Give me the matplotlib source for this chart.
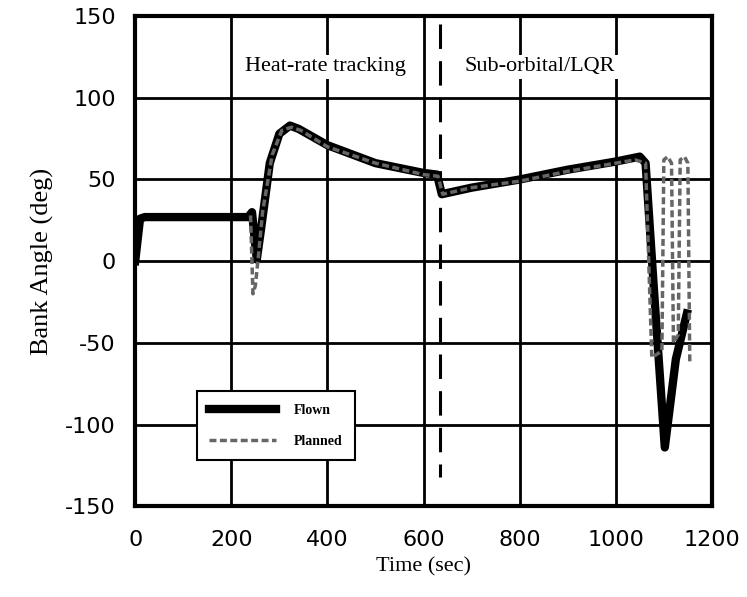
import matplotlib.pyplot as plt

plt.rcParams['axes.unicode_minus'] = False

# flown bank angle history
flown_t = [0, 10, 20, 235, 243, 253, 262, 280, 300, 322, 340, 400, 500, 600,
           628, 638, 700, 800, 900, 1000, 1050, 1062, 1080, 1102, 1125, 1148]
flown_v = [0, 26, 27, 27, 30, 1, 20, 60, 78, 83, 81, 71, 60, 54,
           53, 41, 45, 50, 56, 61, 64, 60, -20, -114, -60, -32]

# planned bank angle history
planned_t = [240, 245, 250, 256, 265, 285, 305, 325, 345, 400, 500, 600, 630,
             640, 700, 800, 900, 1000, 1040, 1062, 1075, 1096, 1100, 1108,
             1116, 1120, 1130, 1134, 1143, 1150, 1154]
planned_v = [28, -20, -15, 2, 30, 65, 80, 82, 80, 70, 60, 53, 52,
             41, 45, 49, 55, 60, 62, 60, -59, -55, 62, 64,
             60, -50, -45, 62, 64, 60, -62]

x_ticks = [0, 200, 400, 600, 800, 1000, 1200]
y_ticks = [-150, -100, -50, 0, 50, 100, 150]
switch_time = 635

serif = 'Liberation Serif'
sans = 'DejaVu Sans'

fig = plt.figure(figsize=(7.47, 5.97), dpi=100)
ax = fig.add_axes([0.181, 0.152, 0.772, 0.821])

ax.plot(flown_t, flown_v, color='k', lw=6, solid_joinstyle='round',
        label='Flown', zorder=3)
ax.plot(planned_t, planned_v, color='0.4', lw=2.5,
        linestyle=(0, (2, 1)), label='Planned', zorder=4)
ax.plot([switch_time, switch_time], [145, -132], color='k', lw=2.2,
        linestyle=(0, (8, 4)), zorder=2)

ax.set_xlim(0, 1200)
ax.set_ylim(-150, 150)
ax.set_xticks(x_ticks)
ax.set_yticks(y_ticks)
ax.grid(True, color='k', lw=2)
ax.set_axisbelow(True)
ax.tick_params(length=0, labelsize=16)
ax.tick_params(axis='x', pad=17)
ax.tick_params(axis='y', pad=14)
for lab in ax.get_xticklabels() + ax.get_yticklabels():
    lab.set_family(sans)
for s in ax.spines.values():
    s.set_linewidth(3)

ax.set_xlabel('Time (sec)', family=serif, fontsize=16, labelpad=5)
ax.set_ylabel('Bank Angle (deg)', family=serif, fontsize=19, labelpad=8)

box = dict(facecolor='white', edgecolor='none', pad=2)
ax.text(395, 119, 'Heat-rate tracking', family=serif, fontsize=16,
        ha='center', va='center', bbox=box, zorder=5)
ax.text(842, 119, 'Sub-orbital/LQR', family=serif, fontsize=16,
        ha='center', va='center', bbox=box, zorder=5)

leg = ax.legend(loc='lower left', bbox_to_anchor=(0.107, 0.094),
                borderaxespad=0,
                prop={'family': serif, 'size': 10, 'weight': 'bold'},
                handlelength=4.8, fancybox=False, framealpha=1,
                borderpad=0.9, labelspacing=1.3, handletextpad=1.3)
leg.get_frame().set_edgecolor('k')
leg.get_frame().set_linewidth(1.5)

fig.savefig('out.png', dpi=100)
